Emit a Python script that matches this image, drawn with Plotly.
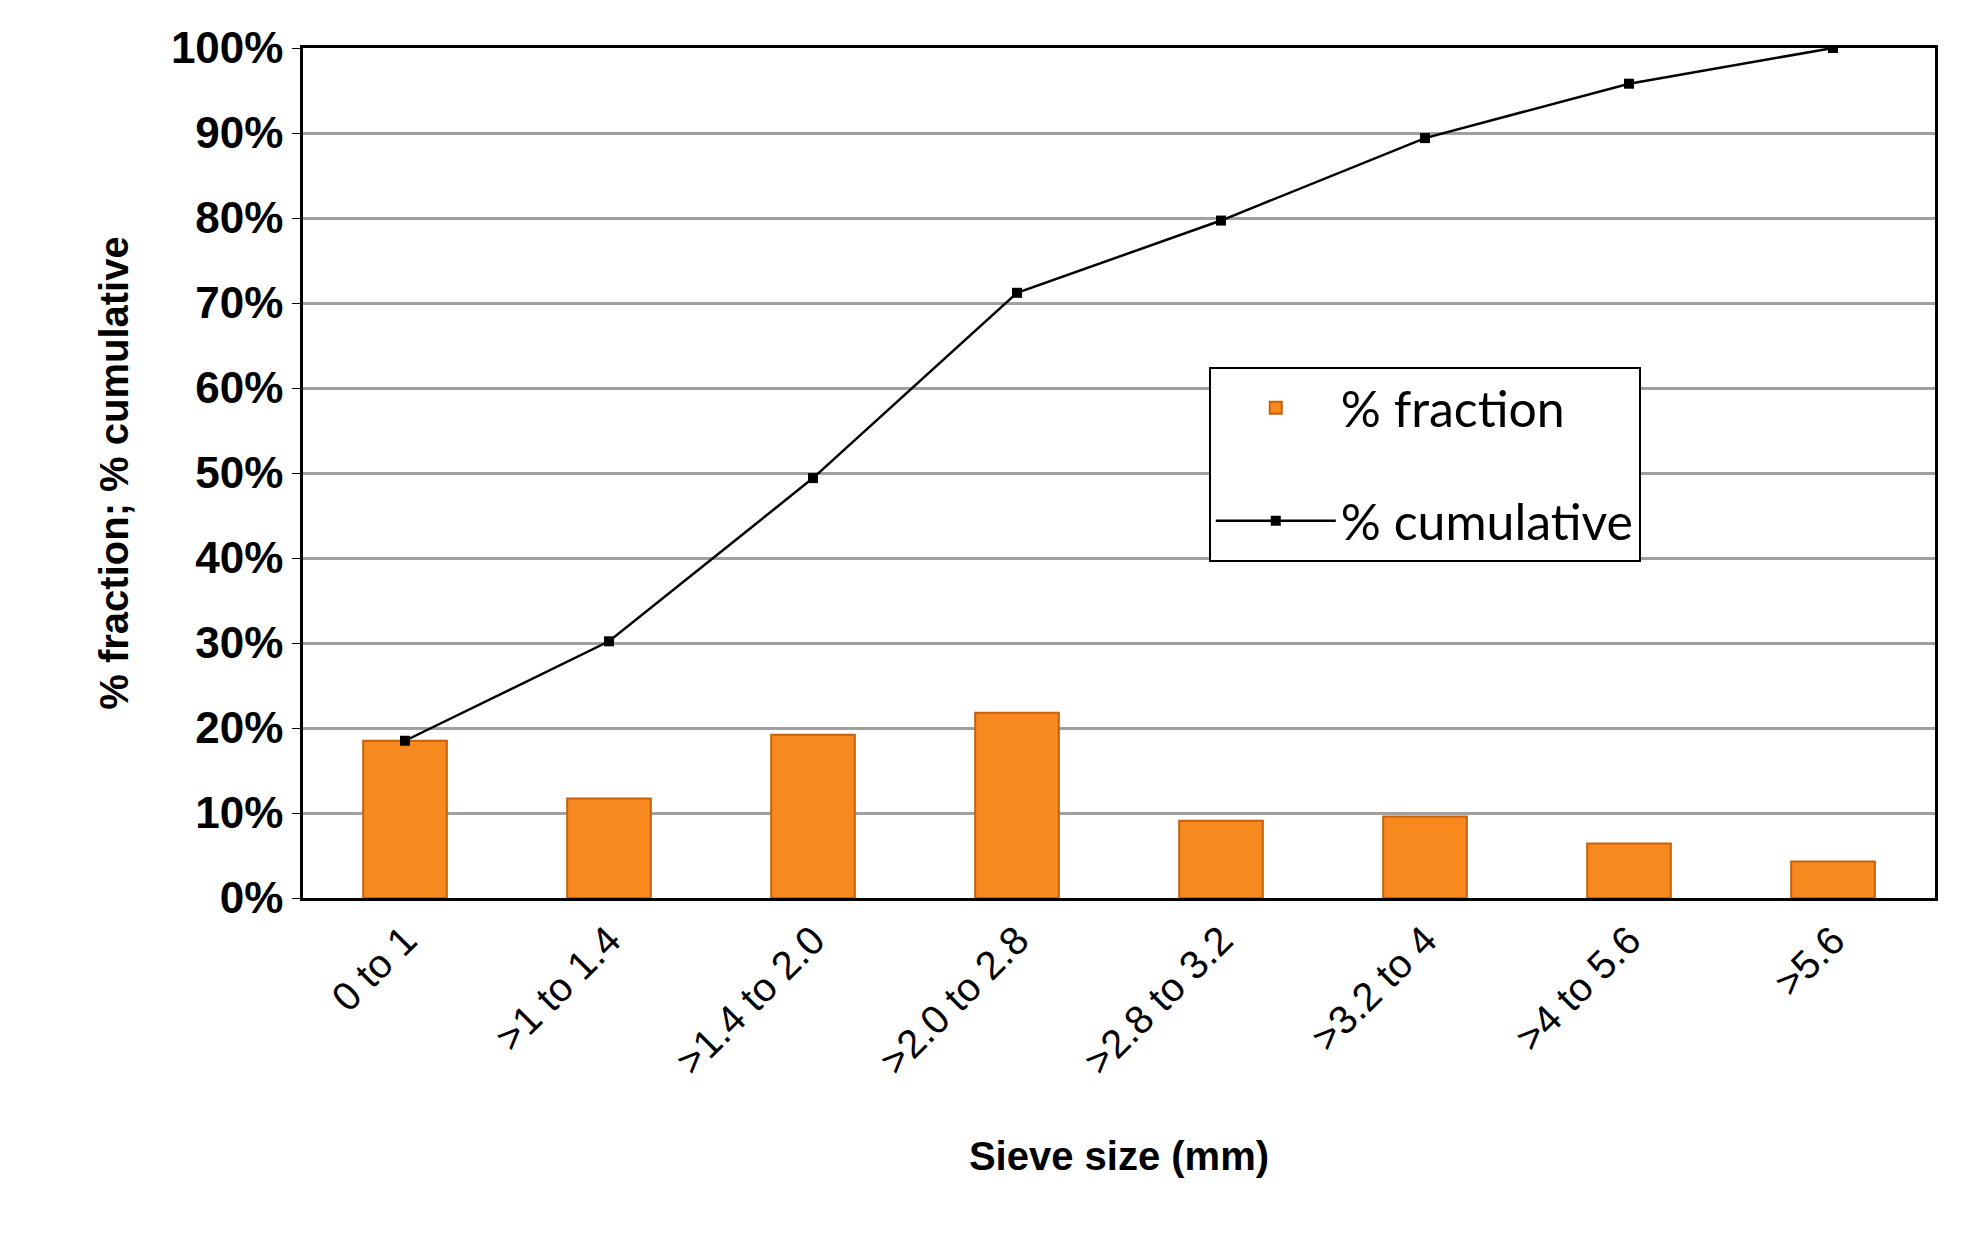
import plotly.graph_objects as go

categories = ["0 to 1", ">1 to 1.4", ">1.4 to 2.0", ">2.0 to 2.8", ">2.8 to 3.2", ">3.2 to 4", ">4 to 5.6", ">5.6"]
fraction = [18.5, 11.7, 19.2, 21.8, 9.1, 9.6, 6.4, 4.3]
cumulative = [18.5, 30.2, 49.4, 71.2, 79.7, 89.4, 95.8, 100]
yticks = list(range(0, 101, 10))

fig = go.Figure()
fig.add_trace(go.Bar(x=categories, y=fraction, name="% fraction", width=0.41, legendgroup="a",
                     marker=dict(color="#F7891E", line=dict(color="#C8600A", width=2))))
fig.add_trace(go.Scatter(x=categories, y=cumulative, name="% cumulative", mode="lines+markers", legendgroup="b",
                         line=dict(color="black", width=2.5),
                         marker=dict(symbol="square", size=10, color="black")))
fig.update_layout(
    width=1967, height=1248, plot_bgcolor="white", paper_bgcolor="white",
    margin=dict(l=295, r=40, t=40, b=358),
    font=dict(family="Liberation Sans", color="black"),
    legend=dict(x=0.555, y=0.625, xanchor="left", yanchor="top", bordercolor="black", borderwidth=2,
                font=dict(family="Lato", size=50), bgcolor="white",
                tracegroupgap=45, itemwidth=120, traceorder="grouped"),
    showlegend=True,
)
fig.update_yaxes(range=[0, 100], tickvals=yticks, ticktext=[f"{v}%" for v in yticks],
                 tickfont=dict(size=44, family="Liberation Sans", weight="bold"),
                 gridcolor="#A0A0A0", gridwidth=2.5, showline=True, linecolor="black", linewidth=2.5,
                 mirror=True, zeroline=False, ticks="outside", ticklen=8, tickcolor="black",
                 title=dict(text="% fraction; % cumulative", font=dict(size=40, family="Liberation Sans", weight="bold"), standoff=30))
fig.update_xaxes(tickangle=-45, tickfont=dict(size=40, family="Liberation Sans"),
                 showline=True, linecolor="black", linewidth=2.5, mirror=True,
                 title=dict(text="Sieve size (mm)", font=dict(size=40, family="Liberation Sans", weight="bold"), standoff=60))
fig.write_html("out.html")
